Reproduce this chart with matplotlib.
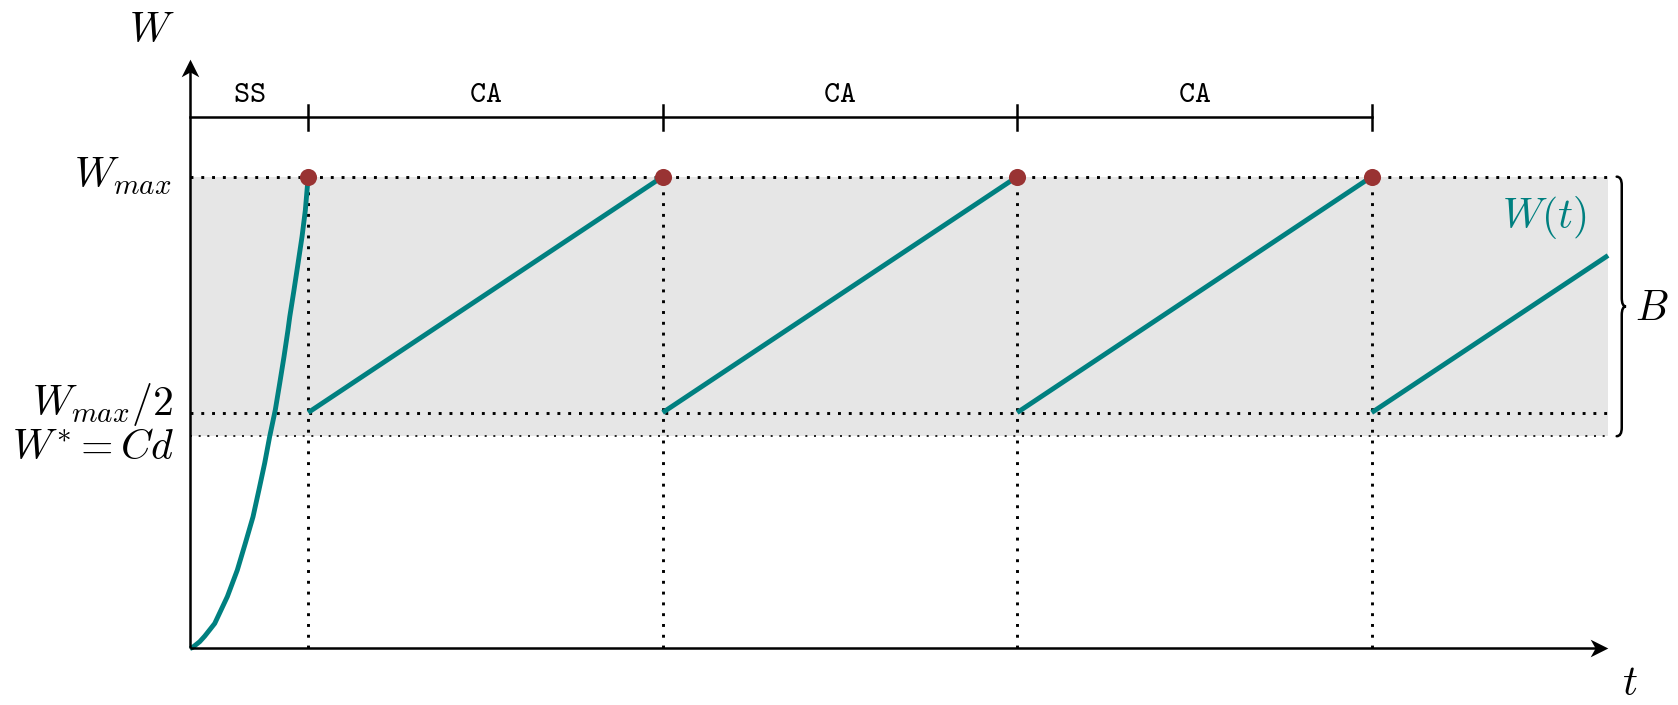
import matplotlib
matplotlib.use("Agg")
import matplotlib.pyplot as plt
from matplotlib.path import Path
from matplotlib.patches import PathPatch

# ---------------- data ----------------
W_MAX = 1.0
W_HALF = 0.5
W_STAR = 0.45
T_END = 12.0
W_TOP = 1.25          # top of the W axis arrow

# slow-start curve
ss_t = [0.0, 0.020, 0.040, 0.082, 0.124, 0.209, 0.316, 0.400, 0.468, 0.533, 0.584, 0.632, 0.674,
        0.722, 0.759, 0.795, 0.829, 0.844, 0.880, 0.914, 0.948, 0.976, 1.0]
ss_w = [0.0, 0.002, 0.006, 0.0144, 0.026, 0.053, 0.110, 0.166, 0.223, 0.279, 0.337, 0.393, 0.449,
        0.506, 0.562, 0.618, 0.675, 0.703, 0.760, 0.816, 0.873, 0.929, 1.0]

# congestion-avoidance segments
ca_t0 = [1, 4, 7, 10]
ca_t1 = [4, 7, 10, 12]
ca_w0 = [0.5, 0.5, 0.5, 0.5]
ca_w1 = [1.0, 1.0, 1.0, 0.833]

# loss events
loss_t = [1, 4, 7, 10]
loss_w = [1.0, 1.0, 1.0, 1.0]

# phase bar
phase_bounds = [0, 1, 4, 7, 10]
phase_labels = ["SS", "CA", "CA", "CA"]
PHASE_Y = 1.127

# ---------------- style ----------------
plt.rcParams["mathtext.fontset"] = "cm"
TEAL = "#008080"
RED = "#993333"
GRAY = "#e6e6e6"
FS = 30

fig = plt.figure(figsize=(16.78, 7.05), dpi=100)
ax = fig.add_axes([0, 0, 1, 1])
ax.set_xlim(-1.608, 12.592)
ax.set_ylim(-0.1198, 1.3745)
ax.axis("off")

# gray band between W* and Wmax
ax.fill_between([0, T_END], [W_STAR, W_STAR], [W_MAX, W_MAX], color=GRAY, lw=0, zorder=0)

dot_style = dict(color="black", lw=2.1, linestyle=(0, (1, 2.7)), dash_capstyle="butt", zorder=1)
ax.plot([0, T_END], [W_MAX, W_MAX], **dot_style)
ax.plot([0, T_END], [W_HALF, W_HALF], **dot_style)
ax.plot([0, T_END], [W_STAR, W_STAR], color="black", lw=1.2,
        linestyle=(0, (1.2, 4.0)), dash_capstyle="butt", zorder=1)
for t in loss_t:
    ax.plot([t, t], [0, W_MAX], **dot_style)

# axes with stealth-like heads
head_r = Path([(0.5, 0), (-0.5, 0.5), (-0.22, 0), (-0.5, -0.5), (0.5, 0)],
              [Path.MOVETO, Path.LINETO, Path.LINETO, Path.LINETO, Path.CLOSEPOLY])
head_u = Path([(0, 0.5), (0.5, -0.5), (0, -0.22), (-0.5, -0.5), (0, 0.5)],
              [Path.MOVETO, Path.LINETO, Path.LINETO, Path.LINETO, Path.CLOSEPOLY])
ax.plot([0, T_END - 0.08], [0, 0], color="black", lw=1.8, solid_capstyle="butt", zorder=4)
ax.plot([0, 0], [0, W_TOP - 0.02], color="black", lw=1.8, solid_capstyle="butt", zorder=4)
ax.plot([T_END - 0.0745], [0], marker=head_r, markersize=12.7, color="black", mew=0, zorder=5)
ax.plot([0], [W_TOP - 0.0187], marker=head_u, markersize=12.7, color="black", mew=0, zorder=5)

# window curve
ax.plot(ss_t, ss_w, color=TEAL, lw=3.5, solid_capstyle="butt", solid_joinstyle="round", zorder=3)
for a, b, c, d in zip(ca_t0, ca_t1, ca_w0, ca_w1):
    ax.plot([a, b], [c, d], color=TEAL, lw=3.5, solid_capstyle="butt", zorder=3)

ax.plot(loss_t, loss_w, "o", color=RED, markersize=12.3, mew=0, zorder=6)

# phase bar
ax.plot([phase_bounds[0], phase_bounds[-1]], [PHASE_Y, PHASE_Y], color="black", lw=1.8, zorder=4)
for t in phase_bounds[1:]:
    ax.plot([t, t], [PHASE_Y - 0.028, PHASE_Y + 0.025], color="black", lw=1.8, zorder=4)
for i, lab in enumerate(phase_labels):
    xm = 0.5 * (phase_bounds[i] + phase_bounds[i + 1])
    ax.text(xm, 1.177, r"$\mathtt{%s}$" % lab, ha="center", va="center", fontsize=22)

# brace B
x0, x1, x2 = 12.073, 12.116, 12.152
top, bot = W_MAX, W_STAR
mid = 0.5 * (top + bot)
r = 0.018
verts = [(x0, top), (x1, top), (x1, top - r), (x1, mid + r), (x1, mid), (x2, mid),
         (x1, mid), (x1, mid - r), (x1, bot + r), (x1, bot), (x0, bot)]
codes = [Path.MOVETO, Path.CURVE3, Path.CURVE3, Path.LINETO, Path.CURVE3, Path.CURVE3,
         Path.CURVE3, Path.CURVE3, Path.LINETO, Path.CURVE3, Path.CURVE3]
ax.add_patch(PathPatch(Path(verts, codes), fill=False, lw=1.8, color="black", capstyle="round"))

# labels
ax.text(-0.324, 1.311, r"$W$", ha="center", va="center", fontsize=FS)
ax.text(12.186, -0.073, r"$t$", ha="center", va="center", fontsize=FS)
ax.text(-0.152, 0.9754, r"$W_{max}$", ha="right", va="baseline", fontsize=FS)
ax.text(-0.141, 0.495, r"$W_{max}/2$", ha="right", va="baseline", fontsize=FS)
ax.text(-0.135, 0.401, r"$W^{*}=Cd$", ha="right", va="baseline", fontsize=FS)
ax.text(11.82, 0.8906, r"$W(t)$", ha="right", va="baseline", fontsize=FS, color=TEAL)
ax.text(12.23, 0.696, r"$B$", ha="left", va="baseline", fontsize=FS)

fig.savefig("out.png", dpi=100)
